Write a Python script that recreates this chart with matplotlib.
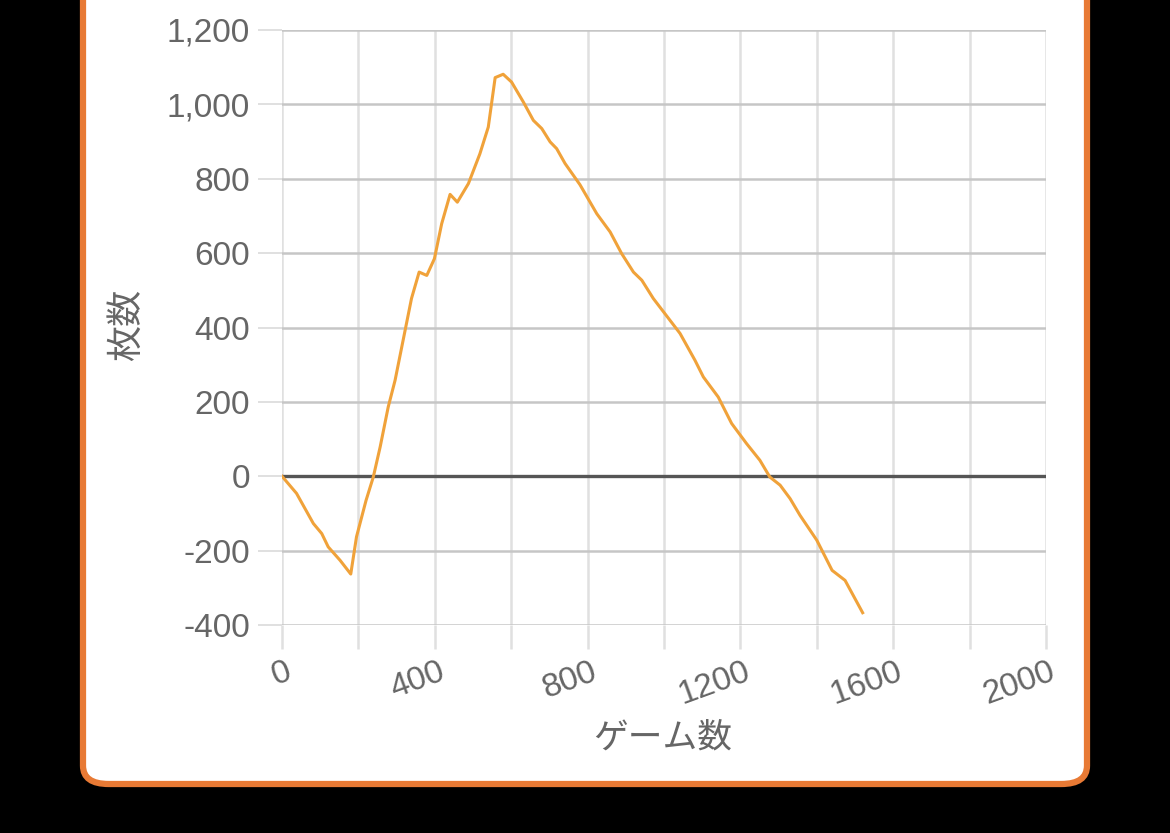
import matplotlib
matplotlib.use("Agg")
import matplotlib.pyplot as plt
from matplotlib.patches import FancyBboxPatch
from matplotlib.ticker import FuncFormatter

plt.rcParams['font.family'] = ['Noto Sans CJK JP', 'DejaVu Sans']

# ゲーム数 / 枚数
games = [0, 38, 82, 104, 121, 152, 180, 195, 220, 239, 257, 278, 296, 339,
         359, 379, 399, 418, 440, 459, 488, 518, 540, 558, 579, 601, 632,
         658, 680, 702, 719, 741, 780, 824, 859, 889, 920, 942, 972, 1042,
         1081, 1103, 1142, 1177, 1216, 1251, 1277, 1304, 1330, 1356, 1400,
         1440, 1474, 1520]
coins = [0, -46, -127, -154, -190, -226, -263, -163, -65, -2, 79, 186, 258,
         478, 549, 540, 585, 679, 758, 737, 787, 867, 939, 1072, 1081, 1060,
         1006, 957, 935, 899, 881, 841, 784, 706, 657, 599, 549, 527, 478,
         384, 312, 267, 213, 142, 88, 43, -2, -24, -60, -105, -172, -253,
         -280, -367]

x_ticks = [0, 400, 800, 1200, 1600, 2000]
y_ticks = [-400, -200, 0, 200, 400, 600, 800, 1000, 1200]

W, H = 1170, 833
fig = plt.figure(figsize=(W / 100, H / 100), dpi=100)
fig.patch.set_facecolor('black')

# white card with orange border
card = FancyBboxPatch((83 / W, 1 - 784 / H), (1087 - 83) / W, 1.2,
                      boxstyle="round,pad=0,rounding_size=0.022",
                      transform=fig.transFigure, facecolor='white',
                      edgecolor='#E87A35', linewidth=4.5, zorder=-5)
fig.patches.append(card)

ax = fig.add_axes([282 / W, 1 - 625 / H, (1046 - 282) / W, (625 - 30) / H])
ax.set_zorder(2)
ax.set_facecolor('none')
ax.plot(games, coins, color='#F0A23A', linewidth=2.2, zorder=3,
        solid_joinstyle='round')

ax.set_xlim(0, 2000)
ax.set_ylim(-400, 1200)

ax.set_yticks(y_ticks)
ax.yaxis.set_major_formatter(FuncFormatter(lambda v, p: f"{int(v):,}"))
ax.set_xticks(range(0, 2001, 200))
ax.set_xticklabels([])
for lab in ax.get_yticklabels():
    lab.set_family('Liberation Sans')

for s in ax.spines.values():
    s.set_visible(False)

for y in y_ticks:
    if y == 0:
        ax.axhline(0, color='#555555', linewidth=2.4, zorder=2)
    else:
        ax.axhline(y, color='#c6c6c6', linewidth=1.8, zorder=1)
for x in range(0, 2001, 200):
    ax.axvline(x, color='#e0e0e0', linewidth=1.8, zorder=0.5)

ax.tick_params(axis='y', length=17, width=1.3, color='#dddddd',
               labelsize=24, labelcolor='#666666', pad=6)
ax.tick_params(axis='x', length=17, width=1.8, color='#e0e0e0')

for x in x_ticks:
    ax.annotate(str(x), xy=(x, -400), xycoords='data',
                xytext=(6, -33), textcoords='offset points',
                rotation=20, rotation_mode='anchor', ha='right', va='center',
                fontsize=24, color='#666666', family='Liberation Sans')

fig.text(663 / W, 1 - 738 / H, 'ゲーム数', ha='center', va='center',
         fontsize=25, color='#666666')
fig.text(127 / W, 1 - 325 / H, '枚数', ha='center', va='center',
         rotation=90, fontsize=26, color='#666666')

fig.savefig('out.png', dpi=100, facecolor='black')
